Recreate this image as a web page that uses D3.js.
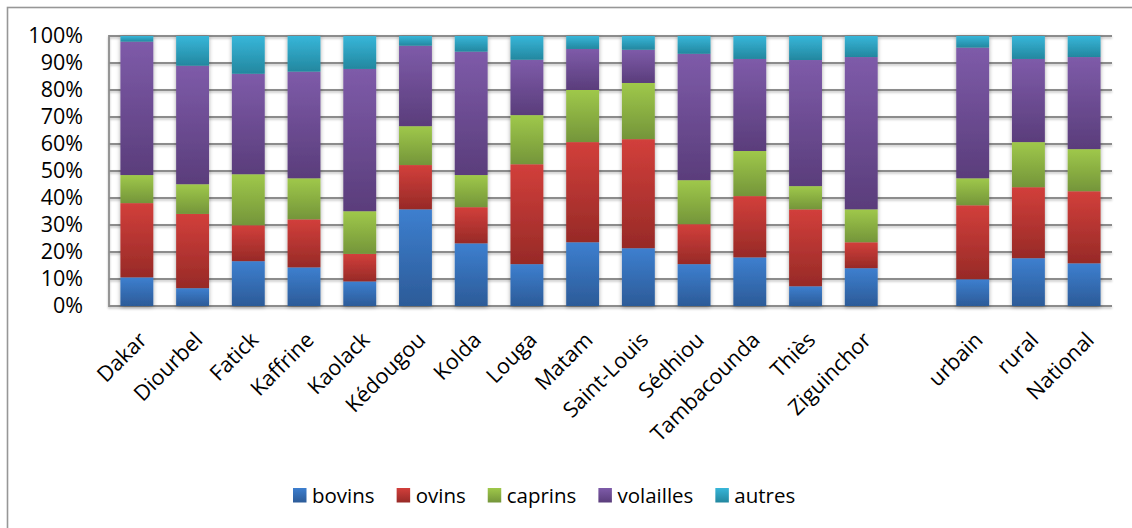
<!DOCTYPE html>
<html>
<head>
<meta charset="utf-8">
<script src="https://cdn.jsdelivr.net/npm/d3@7/dist/d3.min.js"></script>
<style>
  html, body { margin: 0; padding: 0; background: #fff; }
  svg { display: block; font-family: "Open Sans", "Noto Sans", sans-serif; }
</style>
</head>
<body>
<svg id="chart" width="1132" height="528"></svg>
<script>
// ---- data (percent shares) ----
const regions = ["Dakar","Diourbel","Fatick","Kaffrine","Kaolack","Kédougou","Kolda","Louga","Matam","Saint-Louis","Sédhiou","Tambacounda","Thiès","Ziguinchor"];
const zones = ["urbain","rural","National"];
const categories = regions.concat(zones);
const seriesNames = ["bovins","ovins","caprins","volailles","autres"];
const bovins    = [10.6, 6.6,16.6,14.3, 9.1,35.8,23.2,15.5,23.6,21.4,15.5,18.0, 7.3,14.0, 9.9,17.7,15.8];
const ovins     = [27.5,27.5,13.3,17.8,10.2,16.4,13.4,37.0,37.1,40.4,14.8,22.7,28.5, 9.6,27.4,26.3,26.7];
const caprins   = [10.4,11.0,18.9,15.2,15.8,14.4,11.9,18.2,19.3,20.8,16.3,16.7, 8.6,12.2,10.0,16.7,15.6];
const volailles = [49.4,43.9,37.2,39.5,52.7,29.8,45.7,20.5,15.2,12.3,46.8,34.1,46.7,56.4,48.4,30.8,34.1];
const autres    = [ 2.1,11.0,14.0,13.2,12.2, 3.6, 5.8, 8.8, 4.8, 5.1, 6.6, 8.5, 8.9, 7.8, 4.3, 8.5, 7.8];
const yTicks = [0,0.1,0.2,0.3,0.4,0.5,0.6,0.7,0.8,0.9,1.0];

const seriesValues = {bovins, ovins, caprins, volailles, autres};
const colorsTop = {bovins:"#3d7fcf", ovins:"#d23f3b", caprins:"#9fc84a", volailles:"#7e5ba9", autres:"#37b6d9"};
const colorsBot = {bovins:"#2c5b98", ovins:"#972a27", caprins:"#74953a", volailles:"#5a3d7b", autres:"#23879f"};

const table = categories.map((c, i) => {
  const row = {category: c};
  seriesNames.forEach(s => row[s] = seriesValues[s][i]);
  return row;
});

const svg = d3.select("#chart");
const defs = svg.append("defs");

seriesNames.forEach(s => {
  const g = defs.append("linearGradient").attr("id", "grad-" + s)
    .attr("x1", 0).attr("y1", 0).attr("x2", 0).attr("y2", 1);
  g.append("stop").attr("offset", "0%").attr("stop-color", colorsTop[s]);
  g.append("stop").attr("offset", "100%").attr("stop-color", colorsBot[s]);
});
const sh = defs.append("filter").attr("id", "shadow")
  .attr("x", "-30%").attr("y", "-5%").attr("width", "160%").attr("height", "110%");
sh.append("feDropShadow").attr("dx", 0).attr("dy", 1).attr("stdDeviation", 2.2)
  .attr("flood-color", "#000").attr("flood-opacity", 0.35);
const lsh = defs.append("filter").attr("id", "lshadow")
  .attr("x", "-1%").attr("y", "-5%").attr("width", "102%").attr("height", "110%");
lsh.append("feDropShadow").attr("dx", 0).attr("dy", 1.5).attr("stdDeviation", 1)
  .attr("flood-color", "#000").attr("flood-opacity", 0.25);

// outer chart frame
svg.append("rect").attr("x", 7.5).attr("y", 7.5).attr("width", 1200).attr("height", 600)
  .attr("fill", "none").attr("stroke", "#979797").attr("stroke-width", 1.6);

const plotLeft = 109, plotRight = 1112, plotTop = 36, plotBottom = 306;
const domain = regions.concat([" "], zones);
const x = d3.scaleBand().domain(domain).range([plotLeft, plotRight]).paddingInner(0.41).paddingOuter(0.205);
const y = d3.scaleLinear().domain([0, 1]).range([plotBottom, plotTop]);

// gridlines
const grid = svg.append("g").attr("filter", "url(#lshadow)");
grid.selectAll("line.h").data(yTicks).join("line").attr("class", "h")
  .attr("x1", plotLeft).attr("x2", plotRight)
  .attr("y1", d => y(d)).attr("y2", d => y(d))
  .attr("stroke", "#8c8c8c").attr("stroke-width", 1.8);
grid.append("line").attr("x1", plotLeft).attr("x2", plotLeft).attr("y1", plotTop - 1).attr("y2", plotBottom + 1)
  .attr("stroke", "#8c8c8c").attr("stroke-width", 1.8);

// y axis labels
const yAxis = d3.axisLeft(y).tickValues(yTicks).tickFormat(d3.format(".0%")).tickSize(0).tickPadding(26);
const ya = svg.append("g").attr("transform", `translate(${plotLeft},0)`).call(yAxis);
ya.select(".domain").remove();
ya.selectAll("text").attr("font-size", 21.5).attr("fill", "#000")
  .attr("font-family", "'Open Sans', sans-serif");

// stacked bars
const stack = d3.stack().keys(seriesNames).offset(d3.stackOffsetExpand);
const stacked = stack(table);
const cols = svg.append("g").selectAll("g.col").data(categories).join("g")
  .attr("class", "col").attr("filter", "url(#shadow)");
cols.each(function(c, i) {
  const g = d3.select(this);
  stacked.forEach(layer => {
    const d = layer[i];
    g.append("rect")
      .attr("x", x(c)).attr("width", x.bandwidth())
      .attr("y", y(d[1])).attr("height", y(d[0]) - y(d[1]))
      .attr("fill", `url(#grad-${layer.key})`);
  });
});

// category labels
const xl = svg.append("g");
xl.selectAll("text").data(categories).join("text")
  .attr("transform", c => `translate(${x(c) + x.bandwidth()/2 + 6},336) rotate(-45)`)
  .attr("text-anchor", "end").attr("dy", "0.35em")
  .attr("font-size", 21.5).attr("fill", "#000")
  .text(c => c);

// legend
const leg = svg.append("g");
let lx = 293;
seriesNames.forEach(s => {
  leg.append("rect").attr("x", lx).attr("y", 488).attr("width", 13.5).attr("height", 14.5)
    .attr("fill", `url(#grad-${s})`);
  const t = leg.append("text").attr("x", lx + 19).attr("y", 503)
    .attr("font-size", 20.5).attr("fill", "#000").text(s);
  lx += 19 + t.node().getComputedTextLength() + 22;
});
</script>
</body>
</html>
